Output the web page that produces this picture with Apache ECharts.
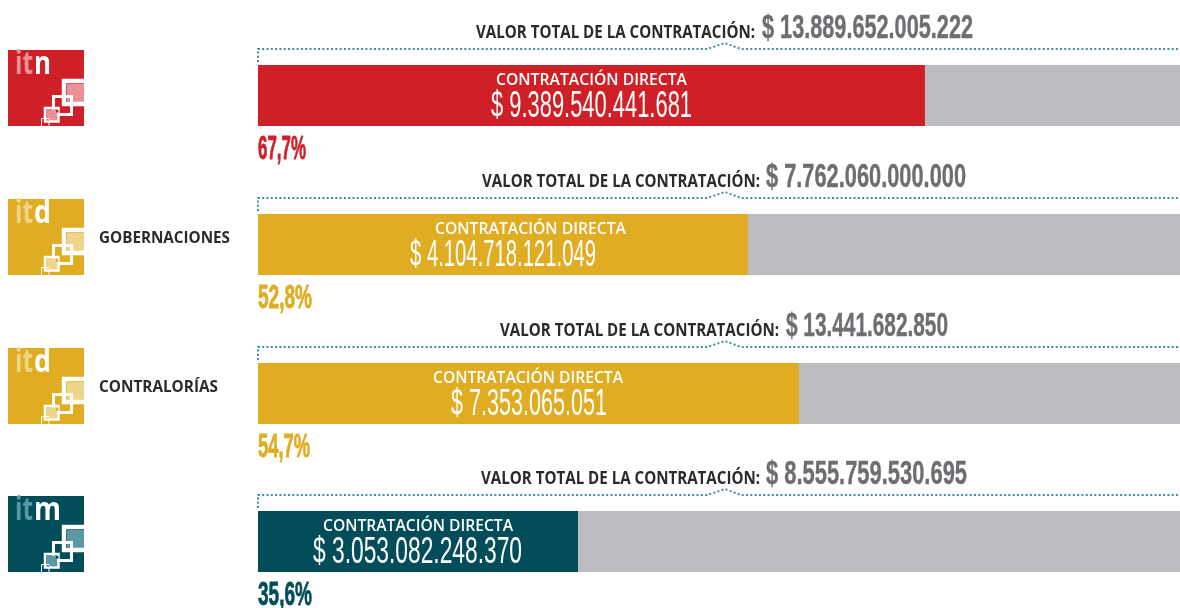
<!DOCTYPE html>
<html><head><meta charset="utf-8">
<style>html,body{margin:0;padding:0;background:#fff}#c{width:1180px;height:608px}</style>
<script src="https://cdn.jsdelivr.net/npm/echarts@6/dist/echarts.min.js"></script>
</head><body><div id="c"></div>
<script>
// ---- data ----
const rowLetters   = ['n', 'd', 'd', 'm'];
const rowNames     = ['', 'GOBERNACIONES', 'CONTRALORÍAS', ''];
const totalLabels  = ['$ 13.889.652.005.222', '$ 7.762.060.000.000', '$ 13.441.682.850', '$ 8.555.759.530.695'];
const directLabels = ['$ 9.389.540.441.681', '$ 4.104.718.121.049', '$ 7.353.065.051', '$ 3.053.082.248.370'];
const percentLabels = ['67,7%', '52,8%', '54,7%', '35,6%'];
// drawn length of each coloured bar, as % of the full grey bar
const directShare  = [72.34, 53.15, 58.68, 34.71];
const otherShare   = [27.66, 46.85, 41.32, 65.29];
const titleText = 'VALOR TOTAL DE LA CONTRATACIÓN:';
const directText = 'CONTRATACIÓN DIRECTA';

// ---- styling and layout ----
const rowColors = ['#d02027', '#dfac22', '#dfac22', '#024d59'];
const rowTints  = ['#e99296', '#efd58c', '#efd58c', '#5a98a6'];
const grey = '#bbbcbf', dotted = '#3d8f9d';
const barTop = [65, 214, 363, 511];
const barH = 61, barLeft = 258, barW = 922;
const titleX = [[476,755],[482,760],[500,779],[481,760]];
const totalX = [[762,973],[766,966],[786,948],[766,967]];
const directTextX = [[496,687],[435,626],[433,623],[323,513]];
const directValX = [[491,692],[410,596],[451,607],[313,522]];
const pctX = [[258,306],[258,312],[258,310],[258,312]];
const nameX = [null,[99,230],[99,218],null];
const SANS = '"Open Sans", "Noto Sans", sans-serif';
const NARROW = '"Liberation Sans Narrow", "Liberation Sans", sans-serif';

const ctx = document.createElement('canvas').getContext('2d');
function fitText(str, range, baseline, size, weight, family, color, boost) {
  const font = weight + ' ' + size + 'px ' + family;
  ctx.font = font;
  const w = ctx.measureText(str).width;
  const asc = family === SANS ? 0.82 * size : 0.78 * size;
  return {
    type: 'text', x: range[0], y: baseline - asc, scaleX: (range[1] - range[0]) / w, silent: true, z: 20,
    style: { text: str, font: font, fill: color, stroke: boost ? color : null, lineWidth: boost || 0, textAlign: 'left', verticalAlign: 'top' }
  };
}
function block(x, y, w, h, fill) {
  return { type: 'rect', shape: { x: x, y: y, width: w, height: h }, silent: true, z: 12, style: { fill: fill } };
}
function frame(x, y, w, h, lw) {
  return { type: 'rect', shape: { x: x, y: y, width: w, height: h }, silent: true, z: 12,
           style: { fill: 'none', stroke: '#fff', lineWidth: lw } };
}
function openFrame(pts, lw) {
  return { type: 'polyline', shape: { points: pts }, silent: true, z: 12,
           style: { fill: 'none', stroke: '#fff', lineWidth: lw, lineJoin: 'miter' } };
}
function logo(i) {
  const L = 8, T = barTop[i] - 15, c = rowColors[i], t = rowTints[i];
  const letterW = rowLetters[i] === 'm' ? 27 : 17;
  return [
    block(L, T, 76, 76, c),
    block(L + 59, T + 34, 17, 18, t),
    openFrame([[L + 76, T + 31], [L + 56, T + 31], [L + 56, T + 54], [L + 76, T + 54]], 4.4),
    frame(L + 45.5, T + 46.5, 18, 18, 3),
    block(L + 38.5, T + 59.5, 11, 11, t),
    frame(L + 37, T + 58, 13.5, 13.5, 2.5),
    frame(L + 33.5, T + 68.5, 7.5, 8, 1),
    block(L + 59, T + 49, 3, 3, t),
    block(L + 48, T + 60, 2.5, 2.5, c),
    block(L + 39, T + 69, 2, 2, t),
    fitText('it', [L + 7, L + 25], T + 25, 32, 700, SANS, t),
    fitText(rowLetters[i], [L + 26, L + 26 + letterW], T + 25, 32, 700, SANS, '#fff')
  ];
}
function bracket(i) {
  const t = barTop[i];
  return { type: 'polyline', silent: true, z: 10,
    shape: { points: [[barLeft, t - 3], [barLeft, t - 16], [707, t - 16], [725, t - 22], [741, t - 16], [1180, t - 16]] },
    style: { fill: 'none', stroke: dotted, lineWidth: 2, lineDash: [2, 2.3] } };
}

const grids = [], xAxes = [], yAxes = [], series = [], graphics = [];
barTop.forEach(function (top, i) {
  grids.push({ left: barLeft, top: top, width: barW, height: barH, containLabel: false });
  xAxes.push({ type: 'value', gridIndex: i, min: 0, max: 100, show: false });
  yAxes.push({ type: 'category', gridIndex: i, data: [String(i)], show: false });
  series.push({ type: 'bar', xAxisIndex: i, yAxisIndex: i, stack: 'r' + i, barWidth: '100%', silent: true,
    data: [directShare[i]], itemStyle: { color: rowColors[i] } });
  series.push({ type: 'bar', xAxisIndex: i, yAxisIndex: i, stack: 'r' + i, barWidth: '100%', silent: true,
    data: [otherShare[i]], itemStyle: { color: grey } });

  graphics.push.apply(graphics, logo(i));
  graphics.push(bracket(i));
  graphics.push(fitText(titleText, titleX[i], top - 26, 17, 700, SANS, '#2a2a2c'));
  graphics.push(fitText(totalLabels[i], totalX[i], top - 27, 33, 700, NARROW, '#6d6e71', 0.4));
  graphics.push(fitText(directText, directTextX[i], top + 21, 17, 600, SANS, '#fff'));
  graphics.push(fitText(directLabels[i], directValX[i], top + 52, 36, 400, NARROW, '#fff'));
  graphics.push(fitText(percentLabels[i], pctX[i], top + 94, 33, 700, NARROW, rowColors[i], 0.8));
  if (rowNames[i]) graphics.push(fitText(rowNames[i], nameX[i], top + 30, 16, 700, SANS, '#2a2a2c'));
});

const chart = echarts.init(document.getElementById('c'), null, { renderer: 'canvas' });
chart.setOption({
  animation: false, backgroundColor: '#fff',
  grid: grids, xAxis: xAxes, yAxis: yAxes, series: series,
  graphic: { elements: graphics }
});
</script></body></html>
